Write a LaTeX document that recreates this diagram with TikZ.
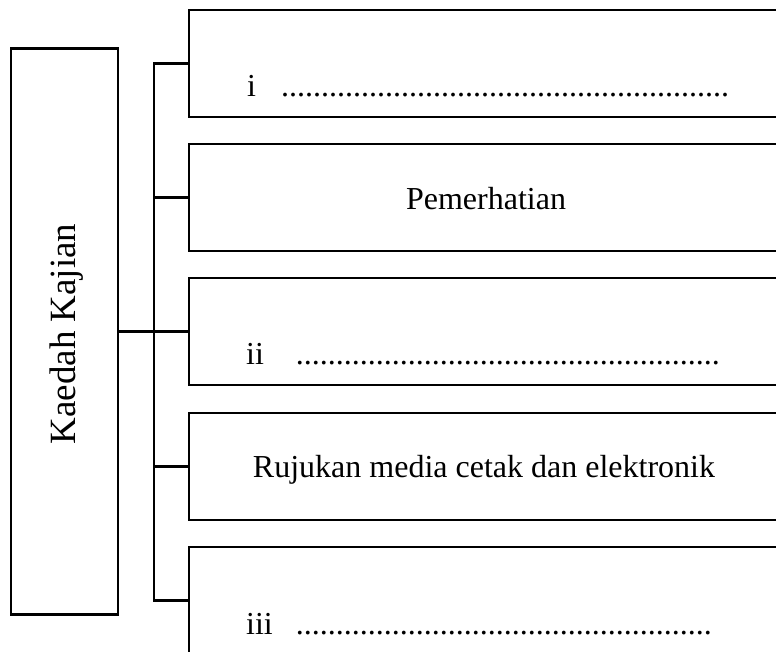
\documentclass[tikz,border=0pt]{standalone}
\usepackage{fontspec}
\setmainfont{Liberation Serif}
\begin{document}
\begin{tikzpicture}[x=1pt,y=-1pt,line width=2.4pt,
  box/.style={draw, rectangle, inner sep=0pt, outer sep=0pt},
  rbox/.style={box, minimum width=640pt, minimum height=107pt},
  lbl/.style={font=\fontsize{32}{38}\selectfont, inner sep=0pt, anchor=base west},
  clbl/.style={font=\fontsize{32}{38}\selectfont, inner sep=0pt, anchor=base}]
\useasboundingbox (0,0) rectangle (776,651);
\clip (0,0) rectangle (776,651);
\node[box, minimum width=107pt, minimum height=566pt] (main) at (64.5,331.5) {};
\node[rbox] (b1) at (509,63.5) {};
\node[rbox] (b2) at (509,197.5) {};
\node[rbox] (b3) at (509,331.5) {};
\node[rbox] (b4) at (509,466.5) {};
\node[rbox] (b5) at (509,600.5) {};
\coordinate (bus) at (154,0);
\draw (b1.west) -- (b1.west -| bus) -- (b5.west -| bus) -- (b5.west);
\draw (b2.west) -- (b2.west -| bus);
\draw (b3.west) -- (b3.west -| bus);
\draw (b4.west) -- (b4.west -| bus);
\draw (main.east) -- (b3.west);
\node[font=\fontsize{37}{44}\selectfont, inner sep=0pt, anchor=base, rotate=90] (t0) at (75,334) {Kaedah Kajian};
\node[lbl] (t1) at (246,96) {i\hspace{25pt}........................................................};
\node[clbl] (t2) at (486,209) {Pemerhatian};
\node[lbl] (t3) at (245,364) {ii\hspace{32pt}.....................................................};
\node[clbl] (t4) at (484,477) {Rujukan media cetak dan elektronik};
\node[lbl] (t5) at (245,634) {iii\hspace{23pt}....................................................};
\end{tikzpicture}
\end{document}
